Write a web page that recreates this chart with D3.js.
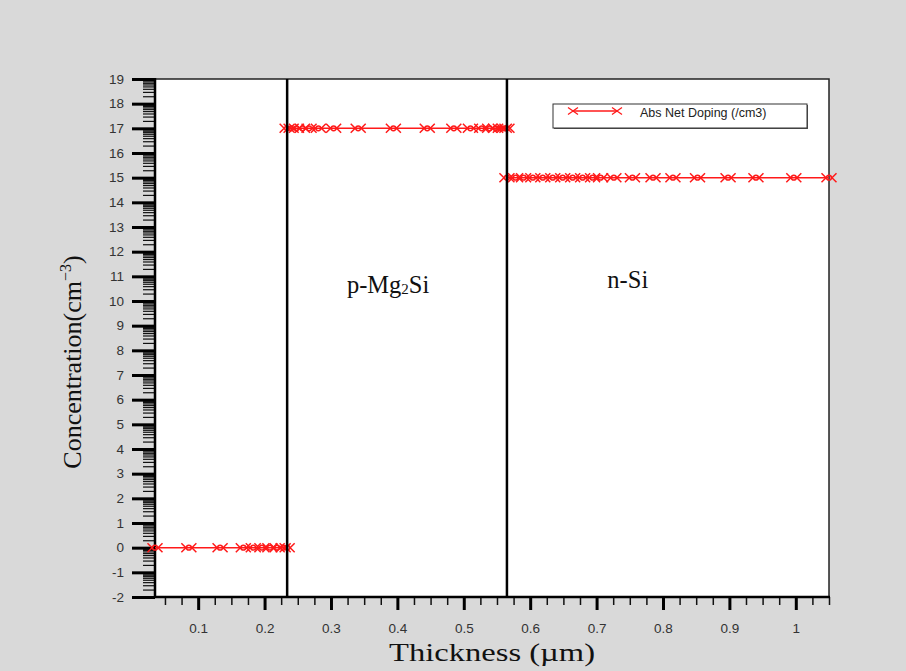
<!DOCTYPE html>
<html>
<head>
<meta charset="utf-8">
<script src="https://cdn.jsdelivr.net/npm/d3@7"></script>
<style>
  html, body { margin: 0; padding: 0; background: #d9d9d9; }
  svg { display: block; }
</style>
</head>
<body>
<svg id="chart"></svg>
<script>
// series: Abs Net Doping, y is the exponent (log10 of cm^-3)
const seriesName = 'Abs Net Doping (/cm3)';
const thickness = [
  0.035, 0.086, 0.133, 0.168, 0.183, 0.196, 0.208, 0.219, 0.228, 0.234,
  0.234, 0.24, 0.248, 0.257, 0.267, 0.281, 0.304, 0.341, 0.394, 0.445, 0.485, 0.51, 0.527, 0.539, 0.548, 0.555, 0.561, 0.565,
  0.565, 0.578, 0.59, 0.604, 0.619, 0.634, 0.649, 0.664, 0.679, 0.694, 0.706, 0.726, 0.754, 0.785, 0.815, 0.852, 0.898, 0.94, 0.997, 1.05
];
const netDoping = [
  0, 0, 0, 0, 0, 0, 0, 0, 0, 0,
  17, 17, 17, 17, 17, 17, 17, 17, 17, 17, 17, 17, 17, 17, 17, 17, 17, 17,
  15, 15, 15, 15, 15, 15, 15, 15, 15, 15, 15, 15, 15, 15, 15, 15, 15, 15, 15, 15
];
// layer boundaries
const junctions = [0.234, 0.565];
const layerNames = ['p-Mg', 'n-Si'];

const xTicks = [0.1, 0.2, 0.3, 0.4, 0.5, 0.6, 0.7, 0.8, 0.9, 1];
const xTickLabels = ['0.1', '0.2', '0.3', '0.4', '0.5', '0.6', '0.7', '0.8', '0.9', '1'];
const yTicks = [-2, -1, 0, 1, 2, 3, 4, 5, 6, 7, 8, 9, 10, 11, 12, 13, 14, 15, 16, 17, 18, 19];

const W = 906, H = 671;
const mLeft = 155, mRight = 829, mTop = 79, mBottom = 597;

const svg = d3.select('#chart').attr('width', W).attr('height', H);

const x = d3.scaleLinear().domain([0.035, 1.05]).range([mLeft, mRight]);
const y = d3.scaleLinear().domain([-2, 19]).range([mBottom, mTop]);

// plot area
svg.append('rect')
  .attr('x', mLeft).attr('y', mTop)
  .attr('width', mRight - mLeft).attr('height', mBottom - mTop)
  .attr('fill', '#fff')
  .attr('stroke', '#222').attr('stroke-width', 1.5);

// x axis: major + minor ticks
const xMinor = d3.range(0.05, 1.0501, 0.025).filter(v => Math.abs(v * 10 - Math.round(v * 10)) > 1e-6);
const xAxisMinor = d3.axisBottom(x).tickValues(xMinor).tickSize(8).tickFormat('');
const xAxis = d3.axisBottom(x).tickValues(xTicks).tickSize(13)
  .tickFormat((d, i) => xTickLabels[i]).tickPadding(13);

svg.append('g').attr('transform', `translate(0,${mBottom})`).call(xAxisMinor)
  .call(g => g.select('.domain').remove())
  .call(g => g.selectAll('line').attr('stroke', '#111').attr('stroke-width', 1.5));
svg.append('g').attr('transform', `translate(0,${mBottom})`).call(xAxis)
  .call(g => g.select('.domain').remove())
  .call(g => g.selectAll('line').attr('stroke', '#000').attr('stroke-width', 3))
  .call(g => g.selectAll('text').attr('font-family', 'Liberation Sans, Arial, sans-serif')
    .attr('font-size', 13.5).attr('fill', '#333'));

// y axis: log style minor ticks between each integer exponent
const yMinor = [];
yTicks.slice(0, -1).forEach(t => {
  for (let k = 2; k <= 9; k++) yMinor.push(t + Math.log10(k));
});
const yAxisMinor = d3.axisLeft(y).tickValues(yMinor).tickSize(12).tickFormat('');
const yAxis = d3.axisLeft(y).tickValues(yTicks).tickSize(23).tickPadding(8)
  .tickFormat(d => String(d));

svg.append('g').attr('transform', `translate(${mLeft},0)`).call(yAxisMinor)
  .call(g => g.select('.domain').remove())
  .call(g => g.selectAll('line').attr('stroke', '#111').attr('stroke-width', 1.2));
svg.append('g').attr('transform', `translate(${mLeft},0)`).call(yAxis)
  .call(g => g.select('.domain').remove())
  .call(g => g.selectAll('line').attr('stroke', '#000').attr('stroke-width', 3))
  .call(g => g.selectAll('text').attr('font-family', 'Liberation Sans, Arial, sans-serif')
    .attr('font-size', 13.5).attr('fill', '#333'));

// axis lines
svg.append('line').attr('x1', mLeft).attr('x2', mLeft).attr('y1', mTop - 1).attr('y2', mBottom + 1)
  .attr('stroke', '#000').attr('stroke-width', 2.5);
svg.append('line').attr('x1', mLeft - 1).attr('x2', mRight + 1).attr('y1', mBottom).attr('y2', mBottom)
  .attr('stroke', '#000').attr('stroke-width', 2.5);

// series
const pts = thickness.map((t, i) => [t, netDoping[i]]);
svg.append('path')
  .datum(pts)
  .attr('fill', 'none')
  .attr('stroke', '#ff1a1a')
  .attr('stroke-width', 1.5)
  .attr('d', d3.line().x(d => x(d[0])).y(d => y(d[1])));

const marker = 'M-7.5,-4.5L-3,0L-7.5,4.5M7.5,-4.5L3,0L7.5,4.5M2.4,0A2.4,2.4 0 1 1 -2.4,0A2.4,2.4 0 1 1 2.4,0';
svg.append('g').selectAll('path')
  .data(pts)
  .join('path')
  .attr('transform', d => `translate(${x(d[0])},${y(d[1])})`)
  .attr('d', marker)
  .attr('fill', 'none')
  .attr('stroke', '#ff1a1a')
  .attr('stroke-width', 1.5);

// junction lines
svg.append('g').selectAll('line')
  .data(junctions)
  .join('line')
  .attr('x1', d => x(d)).attr('x2', d => x(d))
  .attr('y1', mTop).attr('y2', mBottom)
  .attr('stroke', '#000').attr('stroke-width', 2.5);

// layer labels
const serif = 'Liberation Serif, Times New Roman, serif';
const lab1 = svg.append('text')
  .attr('x', x(0.386)).attr('y', y(10.32))
  .attr('text-anchor', 'middle')
  .attr('font-family', serif).attr('font-size', 24.5).attr('fill', '#111');
lab1.append('tspan').text(layerNames[0]);
lab1.append('tspan').attr('font-size', 15).attr('dy', 1).text('2');
lab1.append('tspan').attr('dy', -1).text('Si');

svg.append('text')
  .attr('x', x(0.747)).attr('y', y(10.53))
  .attr('text-anchor', 'middle')
  .attr('font-family', serif).attr('font-size', 24.5).attr('fill', '#111')
  .text(layerNames[1]);

// axis titles
svg.append('text')
  .attr('x', 492).attr('y', 661)
  .attr('text-anchor', 'middle')
  .attr('font-family', serif).attr('font-size', 25).attr('fill', '#111')
  .attr('textLength', 206).attr('lengthAdjust', 'spacingAndGlyphs')
  .text('Thickness (µm)');

const yt = svg.append('text')
  .attr('transform', `translate(81,${362}) rotate(-90)`)
  .attr('text-anchor', 'middle')
  .attr('font-family', serif).attr('font-size', 26).attr('fill', '#111');
yt.append('tspan').text('Concentration(cm');
yt.append('tspan').attr('font-size', 16).attr('dy', -10).text('−3');
yt.append('tspan').attr('dy', 10).text(')');

// legend
const lg = svg.append('g');
lg.append('rect').attr('x', 554).attr('y', 105).attr('width', 254).attr('height', 24)
  .attr('fill', '#555');
lg.append('rect').attr('x', 553).attr('y', 104).attr('width', 254).attr('height', 24)
  .attr('fill', '#fff').attr('stroke', '#333').attr('stroke-width', 1);
lg.append('line').attr('x1', 573).attr('x2', 617).attr('y1', 111).attr('y2', 111)
  .attr('stroke', '#ff1a1a').attr('stroke-width', 1.3);
lg.selectAll('path.lm')
  .data([573, 617])
  .join('path')
  .attr('class', 'lm')
  .attr('transform', d => `translate(${d},111)`)
  .attr('d', 'M-5,-3.5L5,3.5M-5,3.5L5,-3.5')
  .attr('stroke', '#ff1a1a').attr('stroke-width', 1.3);
lg.append('text').attr('x', 640).attr('y', 117)
  .attr('font-family', 'Liberation Sans, Arial, sans-serif').attr('font-size', 12.5)
  .attr('fill', '#222').text(seriesName);
</script>
</body>
</html>
